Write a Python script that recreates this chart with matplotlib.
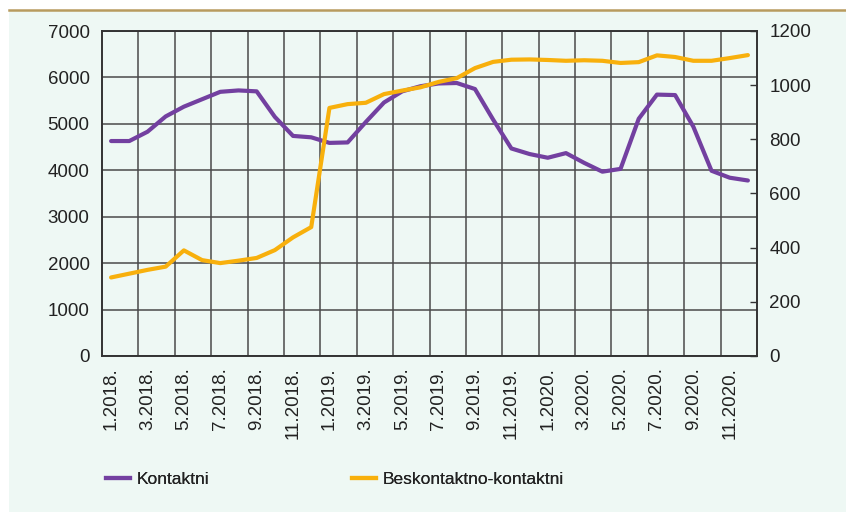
import matplotlib
matplotlib.use("Agg")
import matplotlib.pyplot as plt
from matplotlib.patches import Rectangle
from matplotlib.lines import Line2D

months = [f"{m}.{y}." for y in (2018, 2019, 2020) for m in range(1, 13)]
kontaktni = [4630, 4630, 4830, 5160, 5370, 5530, 5690, 5720, 5700, 5150, 4740, 4710,
             4590, 4600, 5040, 5460, 5700, 5810, 5870, 5880, 5750, 5090, 4470, 4350,
             4270, 4370, 4160, 3970, 4030, 5110, 5630, 5620, 4940, 3990, 3840, 3780]
beskontaktno = [290, 304, 318, 330, 390, 354, 343, 352, 362, 391, 438, 476,
                916, 930, 935, 967, 980, 992, 1012, 1026, 1063, 1086, 1094, 1095,
                1093, 1090, 1092, 1090, 1082, 1085, 1110, 1104, 1090, 1090, 1100, 1111]
series_names = ["Kontaktni", "Beskontaktno-kontaktni"]
left_ticks = [0, 1000, 2000, 3000, 4000, 5000, 6000, 7000]
right_ticks = [0, 200, 400, 600, 800, 1000, 1200]

PURPLE = "#7340A0"
ORANGE = "#F8B00C"
BG = "#EEF8F4"
GRID = "#4a4a4a"
TXT = "#222222"

plt.rcParams['font.family'] = ['Liberation Sans', 'DejaVu Sans']

W, H = 846, 512
fig = plt.figure(figsize=(W / 100, H / 100), dpi=100)
fig.patch.set_facecolor("white")
bgrect = Rectangle((9 / W, 0), 1, (H - 11) / H, transform=fig.transFigure,
                   facecolor=BG, edgecolor="none", zorder=-10)
fig.patches.append(bgrect)
fig.lines.append(Line2D([9 / W, 1], [(H - 10) / H, (H - 10) / H], transform=fig.transFigure,
                        color="#B89B5E", lw=1.8, zorder=-5))

ax = fig.add_axes([102 / W, 1 - 356 / H, (757 - 102) / W, (356 - 31) / H])
ax.set_facecolor(BG)
x = list(range(len(months)))
ax.set_xlim(-0.5, len(months) - 0.5)
ax.set_ylim(0, 7000)
ax.set_yticks(left_ticks)
ax.set_yticklabels([str(v) for v in left_ticks])
ax.set_xticks(x[::2])
ax.set_xticklabels(months[::2], rotation=90)
ax.tick_params(axis='both', length=0, labelsize=13.5, colors=TXT)
ax.tick_params(axis='y', pad=9)
ax.tick_params(axis='x', pad=8)
ax.yaxis.grid(True, color=GRID, lw=1.1)
for k in range(len(months) // 2 - 1):
    ax.axvline(1.5 + 2 * k, color=GRID, lw=1.1, zorder=1)
ax.set_axisbelow(True)
for s in ax.spines.values():
    s.set_color("#333333")
    s.set_linewidth(1.2)

ax.plot(x, kontaktni, color=PURPLE, lw=3, solid_capstyle='round', zorder=3)

ax2 = ax.twinx()
ax2.set_ylim(0, 1200)
ax2.set_yticks(right_ticks)
ax2.set_yticklabels([str(v) for v in right_ticks])
ax2.tick_params(axis='y', direction='in', length=5, width=1, color="#333333",
                labelsize=13.5, labelcolor=TXT, pad=9)
for s in ax2.spines.values():
    s.set_color("#333333")
    s.set_linewidth(1.2)
ax2.plot(x, beskontaktno, color=ORANGE, lw=3, solid_capstyle='round', zorder=3)

leg_font = {'family': ['Liberation Sans'], 'size': 12.5}
h1 = Line2D([], [], color=PURPLE, lw=3)
h2 = Line2D([], [], color=ORANGE, lw=3)
for h, name, x0 in ((h1, series_names[0], 106), (h2, series_names[1], 352)):
    lg = fig.legend([h], [name], loc='center left', bbox_to_anchor=(x0 / W, 1 - 479 / H),
                    frameon=False, borderpad=0, borderaxespad=0, handlelength=1.4,
                    handletextpad=0.35, prop=leg_font, labelcolor=TXT)
    fig.add_artist(lg)

fig.savefig("out.png", dpi=100, facecolor=fig.get_facecolor())
